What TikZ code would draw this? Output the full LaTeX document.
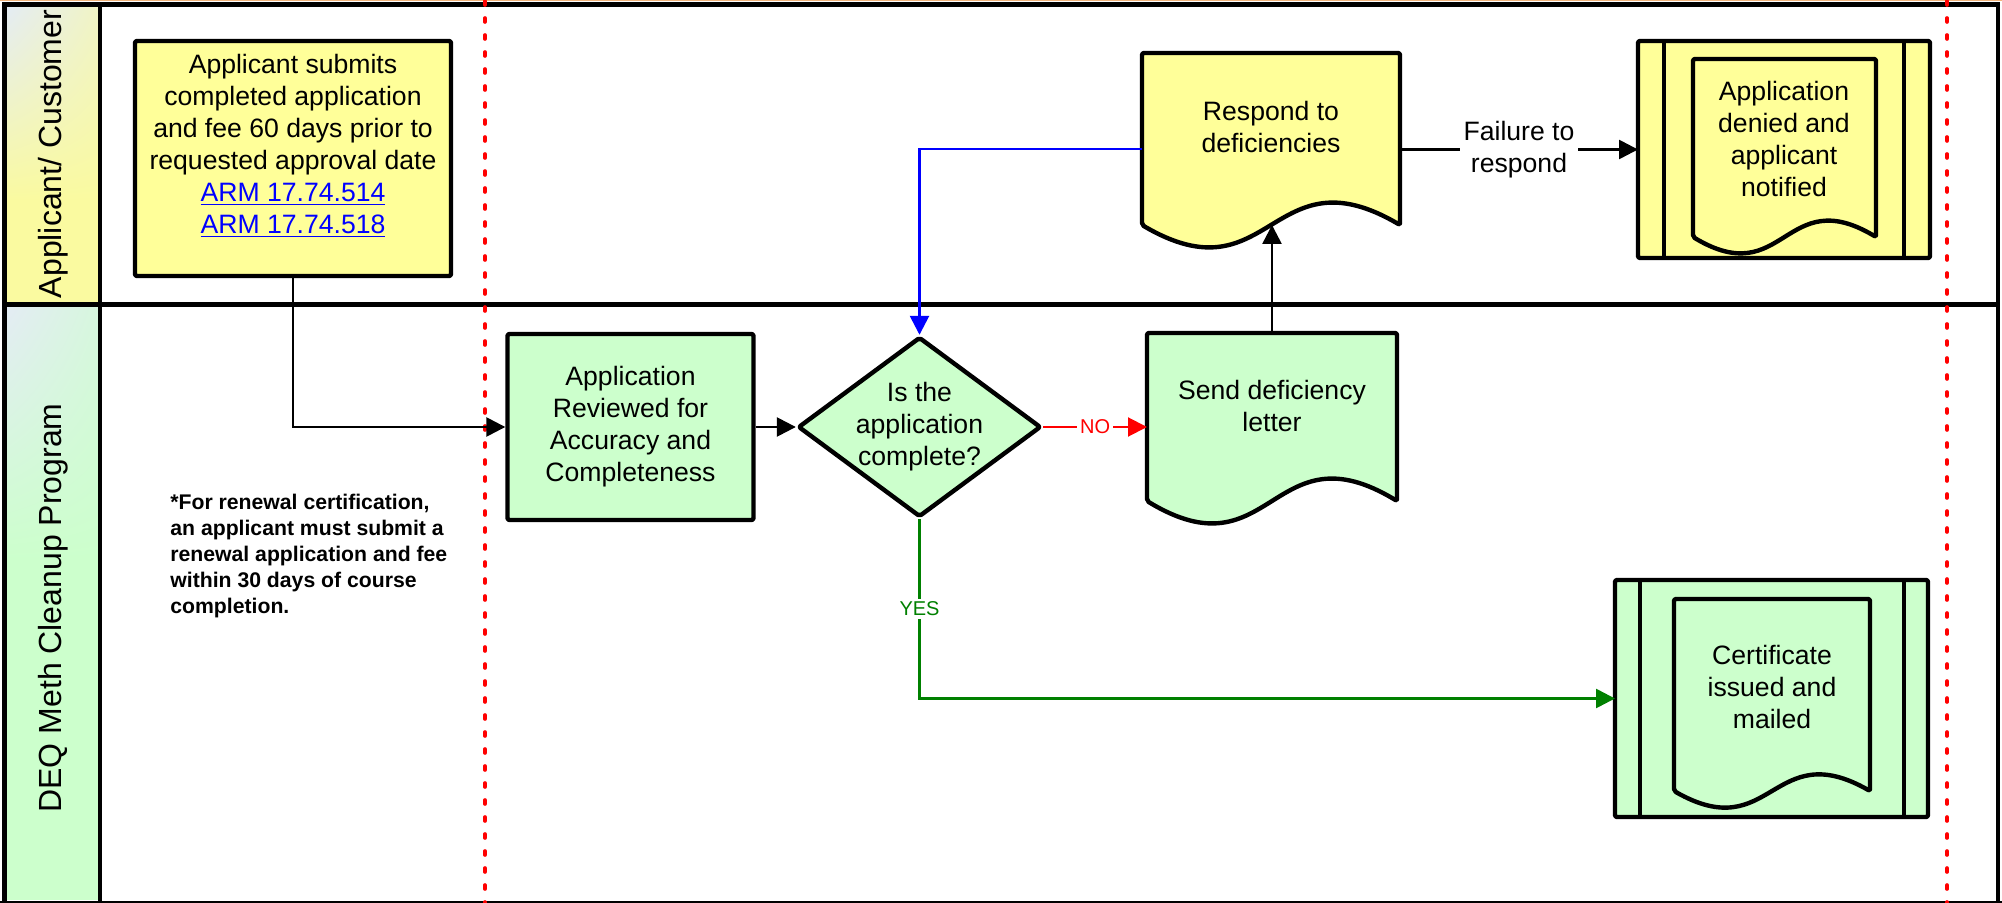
\documentclass[tikz,border=0pt]{standalone}
\usepackage{fontspec}
\setmainfont{Liberation Sans}
\usetikzlibrary{shapes.geometric,arrows.meta,calc,shadings}
\definecolor{boxyel}{HTML}{FFFF99}
\definecolor{boxgrn}{HTML}{CCFFCC}
\definecolor{laneyel}{HTML}{FAFAA0}
\definecolor{lanegrn}{HTML}{CCFFCC}
\definecolor{lanepale}{HTML}{E4ECF4}
\definecolor{linkblue}{HTML}{0000FF}
\definecolor{yesgreen}{HTML}{008000}
\definecolor{framebar}{HTML}{F2B47C}
\newcommand{\docshape}[6]{\draw[boxline,fill=#6] (#1,#2) -- (#3,#2) -- (#3,#4) .. controls ({(#1+#3)/2},{#4-#5}) and ({(#1+#3)/2},{#4+#5}) .. (#1,#4) -- cycle;}
\begin{document}
\begin{tikzpicture}[x=0.5pt,y=-0.5pt,
  txt/.style={font=\fontsize{13.3}{16}\selectfont, align=center, inner sep=0pt},
  lbl/.style={font=\fontsize{10}{12}\selectfont, fill=white, inner sep=1.5pt},
  boxline/.style={draw=black, line width=2.2pt, rounded corners=1pt, line join=round},
  area/.style={inner sep=0pt, outer sep=0pt},
  conn/.style={line width=1.3pt, -{Triangle[length=9.5pt,width=9.5pt]}},
  lanelabel/.style={rotate=90, font=\fontsize{16}{19}\selectfont, inner sep=0pt},
  reddots/.style={red, line width=1.8pt, line cap=round, dash pattern=on 2pt off 6.5pt}
]
\useasboundingbox (0,0) rectangle (2002,903);
% lane header fills
\fill[laneyel] (6,7) rectangle (98,303);
\shade[upper left=lanepale, upper right=laneyel!55!lanepale, lower left=laneyel, lower right=laneyel] (6,7) rectangle (98,200);
\fill[lanegrn] (6,307) rectangle (98,900);
\shade[upper left=lanepale, upper right=lanegrn!55!lanepale, lower left=lanegrn, lower right=lanegrn] (6,307) rectangle (98,560);
% frame
\draw[framebar, line width=1pt] (0,0.5) -- (2002,0.5);
\draw[line width=2.5pt] (2,4.5) -- (2000,4.5);
\draw[line width=2.5pt] (4,3) -- (4,903);
\draw[line width=2pt] (1998,3) -- (1998,903);
\draw[line width=1pt] (0,901.5) -- (2002,901.5);
\draw[line width=2pt] (100,3) -- (100,903);
\draw[line width=2.5pt] (3,305) -- (1999,305);
% phase separators
\draw[reddots] (485,1) -- (485,903);
\draw[reddots] (1947,1) -- (1947,903);
% lane labels
\node[lanelabel] (lane1) at (53,154) {Applicant/ Customer};
\node[lanelabel] (lane2) at (53,608) {DEQ Meth Cleanup Program};
% applicant box
\node[boxline, fill=boxyel, minimum width=158pt, minimum height=117.5pt, inner sep=0pt] (app) at (293,158.5) {};
\node[txt] (apptxt) at (293,146) {Applicant submits\\completed application\\and fee 60 days prior to\\requested approval date\\\textcolor{linkblue}{\underline{ARM 17.74.514}}\\\textcolor{linkblue}{\underline{ARM 17.74.518}}};
% review box
\node[boxline, fill=boxgrn, minimum width=123pt, minimum height=93pt, inner sep=0pt, txt] (rev) at (630.5,427) {Application\\Reviewed for\\Accuracy and\\Completeness};
% decision
\node[diamond, boxline, fill=boxgrn, minimum width=121.5pt, minimum height=90pt, inner sep=0pt] (dec) at (919.5,427) {};
\node[txt] (dectxt) at (919.5,427) {Is the\\application\\complete?};
% send deficiency letter (document)
\docshape{1147}{333}{1397}{501}{76}{boxgrn}
\node[area, minimum width=125pt, minimum height=84pt] (send) at (1272,417) {};
\node[txt] (sendtxt) at (1272,406) {Send deficiency\\letter};
% respond to deficiencies (document)
\docshape{1142}{53}{1400}{225}{76}{boxyel}
\node[area, minimum width=129pt, minimum height=86pt] (resp) at (1271,139) {};
\node[txt] (resptxt) at (1271,127) {Respond to\\deficiencies};
% denied (framed document)
\draw[boxline, fill=boxyel] (1638,41) rectangle (1930,258);
\draw[line width=2pt] (1664,41) -- (1664,258);
\draw[line width=2pt] (1904,41) -- (1904,258);
\docshape{1693}{59}{1876}{237}{55}{boxyel}
\node[area, minimum width=146pt, minimum height=108.5pt] (denied) at (1784,149.5) {};
\node[txt] (deniedtxt) at (1784,139) {Application\\denied and\\applicant\\notified};
% certificate (framed document)
\draw[boxline, fill=boxgrn] (1615,580) rectangle (1928,817);
\draw[line width=2pt] (1640,580) -- (1640,817);
\draw[line width=2pt] (1904,580) -- (1904,817);
\docshape{1674}{599}{1870}{791}{56}{boxgrn}
\node[area, minimum width=156.5pt, minimum height=118.5pt] (cert) at (1771.5,698.5) {};
\node[txt] (certtxt) at (1772,687) {Certificate\\issued and\\mailed};
% note
\node[anchor=west, align=left, inner sep=0pt, font=\bfseries\fontsize{10.6}{13}\selectfont] (note) at (170,556) {*For renewal certification,\\an applicant must submit a\\renewal application and fee\\within 30 days of course\\completion.};
% connectors
\draw[conn] (app.south) |- (rev.west);
\draw[conn] (rev.east) -- (rev.east -| dec.west);
\draw[conn, red, line width=1pt] (dec.east) -- node[lbl, text=red] {NO} (dec.east -| send.west);
\draw[conn] (send.north) -- (send.north |- resp.south);
\draw[conn, blue] ([yshift=-5pt]resp.west) -| (dec.north);
\draw[conn] (resp.east |- denied.west) -- node[txt, fill=white, inner sep=2pt] {Failure to\\respond} (denied.west);
\draw[conn, yesgreen] (dec.south) |- node[pos=0.25, lbl, text=yesgreen] {YES} (cert.west);
\end{tikzpicture}
\end{document}
